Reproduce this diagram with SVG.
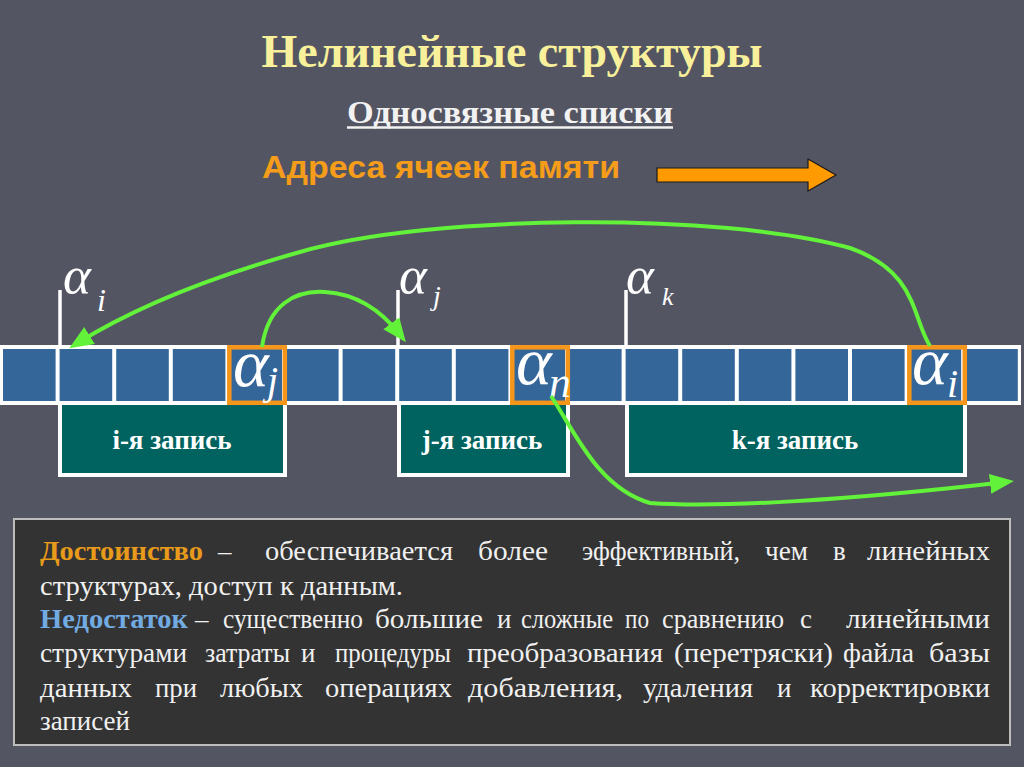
<svg xmlns="http://www.w3.org/2000/svg" width="1024" height="767" viewBox="0 0 1024 767">
<defs>
<style>
.title{font-family:"Liberation Serif",serif;font-weight:bold;font-size:46px;fill:#f8f09a;}
.sub{font-family:"Liberation Serif",serif;font-weight:bold;font-size:32px;fill:#f2f2f2;}
.addr{font-family:"Liberation Sans",sans-serif;font-weight:bold;font-size:32px;fill:#f59d1a;}
.cell{fill:#35669a;}
.sel{fill:none;stroke:#f5961a;stroke-width:4.5;}
.rec{fill:#00635f;stroke:#ffffff;stroke-width:4;}
.rect{font-family:"Liberation Serif",serif;font-weight:bold;font-size:27px;fill:#ffffff;text-anchor:middle;}
.al{font-family:"Liberation Serif",serif;font-style:italic;fill:#ffffff;}
.vl{stroke:#ffffff;stroke-width:3.5;}
.link{fill:none;stroke:#62f23a;stroke-width:4;marker-end:url(#ah);}
.body text{font-family:"Liberation Serif",serif;font-size:27px;fill:#f0f0f0;}
.body text.adv{font-weight:bold;fill:#e89a1a;}
.body text.dis{font-weight:bold;fill:#72aae2;}
</style>
<marker id="ah" viewBox="0 0 12 10" refX="8" refY="5" markerWidth="6" markerHeight="5" orient="auto" markerUnits="strokeWidth">
<path d="M0,0 L12,5 L0,10 z" fill="#62f23a"/>
</marker>
</defs>
<rect x="0" y="0" width="1024" height="767" fill="#545562"/>

<g id="title">
<text class="title" x="512" y="67" text-anchor="middle">Нелинейные структуры</text>
<text class="sub" x="347" y="123" textLength="326" lengthAdjust="spacingAndGlyphs">Односвязные списки</text>
<line x1="347" y1="127.5" x2="673" y2="127.5" stroke="#f2f2f2" stroke-width="2.5"/>
</g>

<g id="address-axis">
<text class="addr" x="262" y="178" textLength="358" lengthAdjust="spacingAndGlyphs">Адреса ячеек памяти</text>
<polygon points="657,168 808,168 808,159 836,175 808,191 808,182 657,182" fill="#ff9a00" stroke="#1a1a1a" stroke-width="1.2"/>
</g>

<g id="memory-strip">
<rect x="0" y="345" width="1021" height="60" fill="#ffffff"/>
<rect class="cell" x="3" y="349" width="52.6" height="52"/>
<rect class="cell" x="59.6" y="349" width="52.6" height="52"/>
<rect class="cell" x="116.2" y="349" width="52.6" height="52"/>
<rect class="cell" x="172.8" y="349" width="52.6" height="52"/>
<rect class="cell" x="229.4" y="349" width="52.6" height="52"/>
<rect class="cell" x="286" y="349" width="52.6" height="52"/>
<rect class="cell" x="342.6" y="349" width="52.6" height="52"/>
<rect class="cell" x="399.2" y="349" width="52.6" height="52"/>
<rect class="cell" x="455.8" y="349" width="52.6" height="52"/>
<rect class="cell" x="512.4" y="349" width="52.6" height="52"/>
<rect class="cell" x="569" y="349" width="52.6" height="52"/>
<rect class="cell" x="625.6" y="349" width="52.6" height="52"/>
<rect class="cell" x="682.2" y="349" width="52.6" height="52"/>
<rect class="cell" x="738.8" y="349" width="52.6" height="52"/>
<rect class="cell" x="795.4" y="349" width="52.6" height="52"/>
<rect class="cell" x="852" y="349" width="52.6" height="52"/>
<rect class="cell" x="908.6" y="349" width="52.6" height="52"/>
<rect class="cell" x="965.2" y="349" width="52.6" height="52"/>
</g>

<g id="record-i">
<rect class="rec" x="60" y="403" width="225" height="72"/>
<text class="rect" x="172" y="449">i-я запись</text>
</g>
<g id="record-j">
<rect class="rec" x="399" y="403" width="169" height="72"/>
<text class="rect" x="482" y="449">j-я запись</text>
</g>
<g id="record-k">
<rect class="rec" x="627" y="403" width="338" height="72"/>
<text class="rect" x="795" y="449">k-я запись</text>
</g>

<g id="pointer-cell-j">
<rect class="sel" x="229.3" y="347.3" width="55.5" height="55.5"/>
<text class="al" x="233" y="386" font-size="68">α</text>
<text class="al" x="267" y="394" font-size="40">j</text>
</g>
<g id="pointer-cell-n">
<rect class="sel" x="512.3" y="347.3" width="55.5" height="55.5"/>
<text class="al" x="516" y="384" font-size="68">α</text>
<text class="al" x="549" y="397" font-size="44">n</text>
</g>
<g id="pointer-cell-i">
<rect class="sel" x="909.3" y="347.3" width="55.5" height="55.5"/>
<text class="al" x="912" y="384" font-size="68">α</text>
<text class="al" x="947" y="397" font-size="40">i</text>
</g>

<g id="label-alpha-i">
<line class="vl" x1="60" y1="290" x2="60" y2="347"/>
<text class="al" x="63" y="293" font-size="53">α</text>
<text class="al" x="97" y="311" font-size="32">i</text>
</g>
<g id="label-alpha-j">
<line class="vl" x1="398" y1="290" x2="398" y2="347"/>
<text class="al" x="399" y="293" font-size="53">α</text>
<text class="al" x="433" y="305" font-size="28">j</text>
</g>
<g id="label-alpha-k">
<line class="vl" x1="626" y1="290" x2="626" y2="347"/>
<text class="al" x="626" y="293" font-size="53">α</text>
<text class="al" x="662" y="305" font-size="26">k</text>
</g>

<g id="connectors">
<path class="link" d="M930 346 C912 318, 918 272, 850 248 C720 212, 430 214, 300 252 C200 280, 130 310, 76 344"/>
<path class="link" d="M262 347 C268 305, 295 290, 325 292 C360 294, 385 315, 401 336"/>
<path class="link" d="M551 396 C575 432, 598 488, 650 503 C720 508, 850 500, 1006 482"/>
</g>

<g id="note">
<rect x="14" y="519" width="996" height="226" fill="#333333" stroke="#bdbdbd" stroke-width="2"/>
<g class="body">
<text class="adv" x="40" y="560" textLength="163" lengthAdjust="spacingAndGlyphs">Достоинство</text>
<text x="218" y="560">–</text>
<text x="265" y="560" textLength="188" lengthAdjust="spacingAndGlyphs">обеспечивается</text>
<text x="478" y="560" textLength="70" lengthAdjust="spacingAndGlyphs">более</text>
<text x="582" y="560" textLength="158" lengthAdjust="spacingAndGlyphs">эффективный,</text>
<text x="765" y="560" textLength="43" lengthAdjust="spacingAndGlyphs">чем</text>
<text x="833" y="560">в</text>
<text x="867" y="560" textLength="123" lengthAdjust="spacingAndGlyphs">линейных</text>

<text x="40" y="595" textLength="363" lengthAdjust="spacingAndGlyphs">структурах, доступ к данным.</text>

<text class="dis" x="40" y="628" textLength="148" lengthAdjust="spacingAndGlyphs">Недостаток</text>
<text x="195" y="628">–</text>
<text x="223" y="628" textLength="140" lengthAdjust="spacingAndGlyphs">существенно</text>
<text x="375" y="628" textLength="108" lengthAdjust="spacingAndGlyphs">большие</text>
<text x="497" y="628">и</text>
<text x="521" y="628" textLength="92" lengthAdjust="spacingAndGlyphs">сложные</text>
<text x="625" y="628" textLength="24" lengthAdjust="spacingAndGlyphs">по</text>
<text x="662" y="628" textLength="122" lengthAdjust="spacingAndGlyphs">сравнению</text>
<text x="800" y="628">с</text>
<text x="846" y="628" textLength="144" lengthAdjust="spacingAndGlyphs">линейными</text>

<text x="40" y="662" textLength="147" lengthAdjust="spacingAndGlyphs">структурами</text>
<text x="205" y="662" textLength="85" lengthAdjust="spacingAndGlyphs">затраты</text>
<text x="301" y="662">и</text>
<text x="335" y="662" textLength="116" lengthAdjust="spacingAndGlyphs">процедуры</text>
<text x="467" y="662" textLength="196" lengthAdjust="spacingAndGlyphs">преобразования</text>
<text x="674" y="662" textLength="159" lengthAdjust="spacingAndGlyphs">(перетряски)</text>
<text x="843" y="662" textLength="71" lengthAdjust="spacingAndGlyphs">файла</text>
<text x="929" y="662" textLength="61" lengthAdjust="spacingAndGlyphs">базы</text>

<text x="40" y="697" textLength="92" lengthAdjust="spacingAndGlyphs">данных</text>
<text x="155" y="697" textLength="42" lengthAdjust="spacingAndGlyphs">при</text>
<text x="220" y="697" textLength="83" lengthAdjust="spacingAndGlyphs">любых</text>
<text x="325" y="697" textLength="127" lengthAdjust="spacingAndGlyphs">операциях</text>
<text x="468" y="697" textLength="155" lengthAdjust="spacingAndGlyphs">добавления,</text>
<text x="643" y="697" textLength="110" lengthAdjust="spacingAndGlyphs">удаления</text>
<text x="777" y="697">и</text>
<text x="810" y="697" textLength="180" lengthAdjust="spacingAndGlyphs">корректировки</text>

<text x="40" y="730">записей</text>
</g>
</g>
</svg>
